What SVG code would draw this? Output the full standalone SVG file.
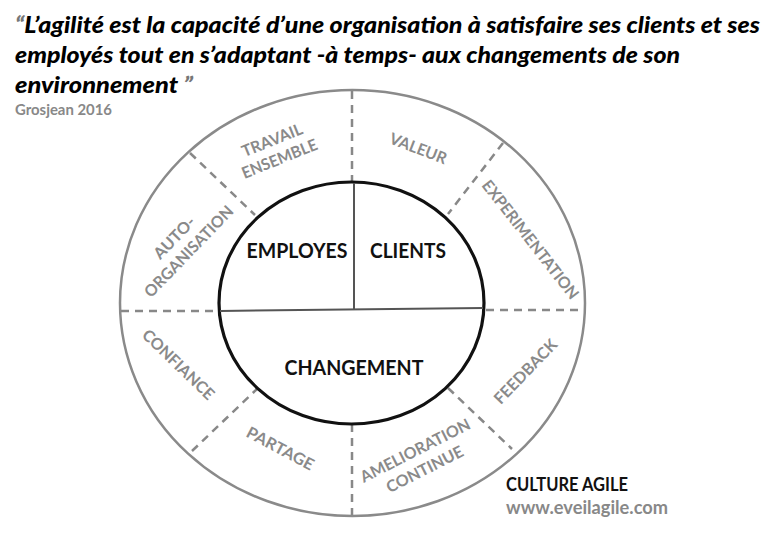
<svg xmlns="http://www.w3.org/2000/svg" width="768" height="540" viewBox="0 0 768 540">
<style>
.title{font-family:Lato,"Liberation Sans",sans-serif;font-weight:900;font-style:italic;font-size:23px;fill:#000}
.q{fill:#777}
.src{font-family:Lato,"Liberation Sans",sans-serif;font-weight:bold;font-size:15px;fill:#888}
.core{font-family:Lato,"Liberation Sans",sans-serif;font-weight:bold;font-size:21px;fill:#111}
.lbl{font-family:Lato,"Liberation Sans",sans-serif;font-weight:bold;font-size:16px;fill:#8a8a8a}
.dash{stroke:#888;stroke-width:2.5;stroke-dasharray:8 6;fill:none}
.div{stroke:#555;stroke-width:2;fill:none}
</style>
<rect width="768" height="540" fill="#fff"/>
<g id="title">
<text class="title" x="15" y="33" textLength="745" lengthAdjust="spacingAndGlyphs"><tspan class="q">“</tspan>L’agilité est la capacité d’une organisation à satisfaire ses clients et ses</text>
<text class="title" x="15" y="63" textLength="665" lengthAdjust="spacingAndGlyphs">employés tout en s’adaptant -à temps- aux changements de son</text>
<text class="title" x="15" y="93" textLength="178" lengthAdjust="spacingAndGlyphs">environnement <tspan class="q">”</tspan></text>
<text class="src" x="15" y="115" textLength="97" lengthAdjust="spacingAndGlyphs">Grosjean 2016</text>
</g>
<g id="outer-ring">
<ellipse cx="352.5" cy="303" rx="232.5" ry="213" fill="#fff" stroke="#8a8a8a" stroke-width="2.5"/>
</g>
<g id="connectors">
<line class="dash" x1="352" y1="91" x2="352" y2="182"/>
<line class="dash" x1="121" y1="311" x2="219" y2="311"/>
<line class="dash" x1="486" y1="310" x2="584" y2="310"/>
<line class="dash" x1="352" y1="424" x2="352" y2="515"/>
<line class="dash" x1="190" y1="153" x2="255" y2="215"/>
<line class="dash" x1="503" y1="143" x2="448" y2="214"/>
<line class="dash" x1="192" y1="451" x2="257" y2="389"/>
<line class="dash" x1="448" y1="388" x2="512" y2="449"/>
</g>
<g id="inner-circle">
<ellipse cx="351.5" cy="303" rx="132.5" ry="121" fill="#fff" stroke="#111" stroke-width="3.2"/>
<line class="div" x1="220" y1="311" x2="483" y2="308"/>
<line class="div" x1="354" y1="183" x2="354" y2="310"/>
</g>
<g id="employes"><text class="core" x="297" y="258" text-anchor="middle" textLength="101" lengthAdjust="spacingAndGlyphs">EMPLOYES</text></g>
<g id="clients"><text class="core" x="408" y="258" text-anchor="middle" textLength="76" lengthAdjust="spacingAndGlyphs">CLIENTS</text></g>
<g id="changement"><text class="core" x="354" y="375" text-anchor="middle" textLength="139" lengthAdjust="spacingAndGlyphs">CHANGEMENT</text></g>
<g id="travail-ensemble" transform="translate(276,150) rotate(-22)">
<text class="lbl" x="0" y="-5" text-anchor="middle" textLength="64" lengthAdjust="spacingAndGlyphs">TRAVAIL</text>
<text class="lbl" x="0" y="15" text-anchor="middle" textLength="80" lengthAdjust="spacingAndGlyphs">ENSEMBLE</text>
</g>
<g id="valeur" transform="translate(418,149) rotate(21)">
<text class="lbl" x="0" y="5" text-anchor="middle" textLength="60" lengthAdjust="spacingAndGlyphs">VALEUR</text>
</g>
<g id="experimentation" transform="translate(530,240) rotate(52)">
<text class="lbl" x="0" y="5" text-anchor="middle" textLength="146" lengthAdjust="spacingAndGlyphs">EXPERIMENTATION</text>
</g>
<g id="auto-organisation" transform="translate(182,245) rotate(-46)">
<text class="lbl" x="0" y="-5" text-anchor="middle" textLength="52" lengthAdjust="spacingAndGlyphs">AUTO-</text>
<text class="lbl" x="0" y="15" text-anchor="middle" textLength="120" lengthAdjust="spacingAndGlyphs">ORGANISATION</text>
</g>
<g id="confiance" transform="translate(178,365) rotate(44)">
<text class="lbl" x="0" y="5" text-anchor="middle" textLength="93" lengthAdjust="spacingAndGlyphs">CONFIANCE</text>
</g>
<g id="partage" transform="translate(280,449) rotate(28)">
<text class="lbl" x="0" y="5" text-anchor="middle" textLength="74" lengthAdjust="spacingAndGlyphs">PARTAGE</text>
</g>
<g id="amelioration-continue" transform="translate(420,460) rotate(-27)">
<text class="lbl" x="0" y="-5" text-anchor="middle" textLength="121" lengthAdjust="spacingAndGlyphs">AMELIORATION</text>
<text class="lbl" x="0" y="16" text-anchor="middle" textLength="84" lengthAdjust="spacingAndGlyphs">CONTINUE</text>
</g>
<g id="feedback" transform="translate(526,372) rotate(-46)">
<text class="lbl" x="0" y="5" text-anchor="middle" textLength="83" lengthAdjust="spacingAndGlyphs">FEEDBACK</text>
</g>
<g id="footer">
<text x="506" y="491" font-family="Lato,'Liberation Sans',sans-serif" font-weight="bold" font-size="18" fill="#111" textLength="122" lengthAdjust="spacingAndGlyphs">CULTURE AGILE</text>
<text x="506" y="514" font-family="Lato,'Liberation Sans',sans-serif" font-weight="bold" font-size="18" fill="#888" textLength="162" lengthAdjust="spacingAndGlyphs">www.eveilagile.com</text>
</g>
</svg>
